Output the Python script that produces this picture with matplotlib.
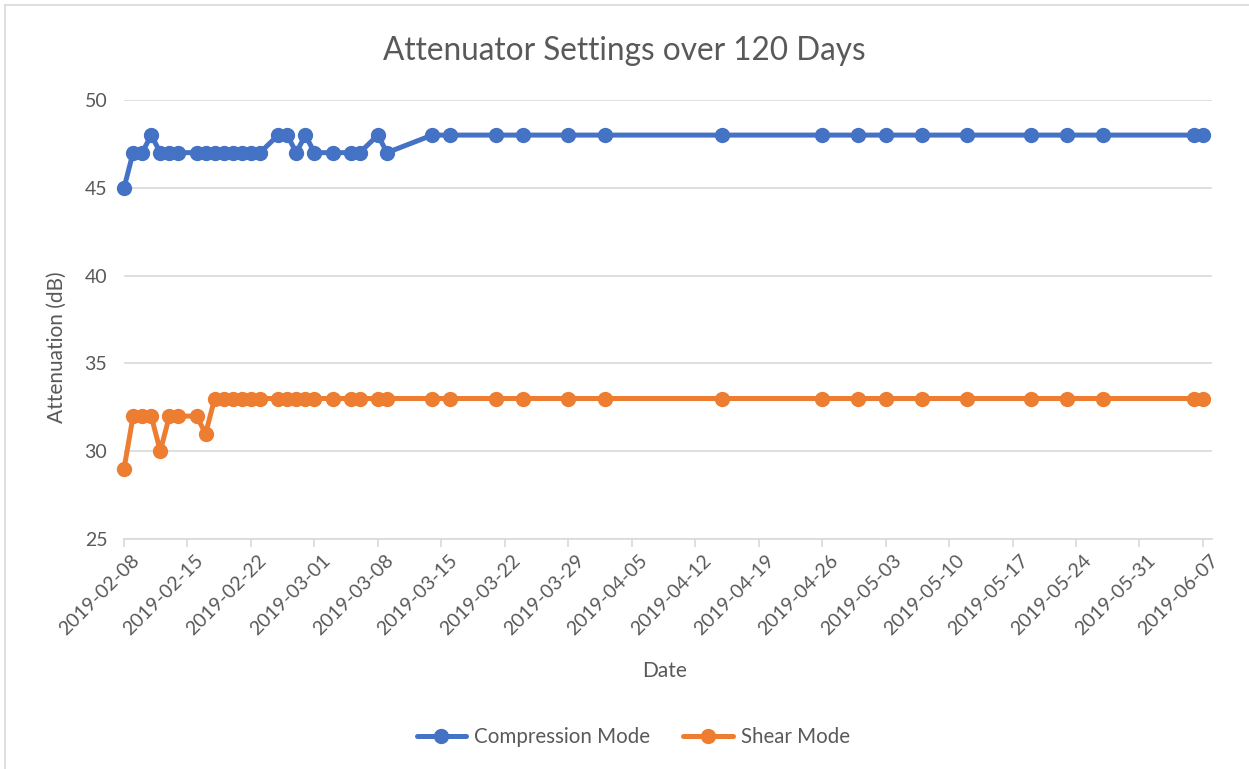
import numpy as np
import pandas as pd
import matplotlib
matplotlib.use('Agg')
import matplotlib.pyplot as plt
import matplotlib.dates as mdates
import matplotlib.transforms as mtransforms
from matplotlib.lines import Line2D

# ─────────────────────────────────────────
# DATA
# ─────────────────────────────────────────
start_date = '2019-02-08'
day_offsets = [0, 1, 2, 3, 4, 5, 6, 8, 9, 10, 11, 12, 13, 14, 15,
               17, 18, 19, 20, 21, 23, 25, 26, 28, 29, 34, 36,
               41, 44, 49, 53, 66, 77, 81, 84, 88, 93, 100, 104, 108, 118, 119]
compression_db = [45, 47, 47, 48, 47, 47, 47, 47, 47, 47, 47, 47, 47, 47, 47,
                  48, 48, 47, 48, 47, 47, 47, 47, 48, 47, 48, 48,
                  48, 48, 48, 48, 48, 48, 48, 48, 48, 48, 48, 48, 48, 48, 48]
shear_db = [29, 32, 32, 32, 30, 32, 32, 32, 31, 33, 33, 33, 33, 33, 33,
            33, 33, 33, 33, 33, 33, 33, 33, 33, 33, 33, 33,
            33, 33, 33, 33, 33, 33, 33, 33, 33, 33, 33, 33, 33, 33, 33]
series_names = ['Compression Mode', 'Shear Mode']
y_ticks = [25, 30, 35, 40, 45, 50]

dates = pd.to_datetime(start_date) + pd.to_timedelta(day_offsets, unit='D')

BLUE = '#4472C4'
ORANGE = '#ED7D31'
GRID = '#D9D9D9'
TEXT = '#595959'

plt.rcParams['font.family'] = ['Lato', 'DejaVu Sans']

fig = plt.figure(figsize=(12.49, 7.69), dpi=100)
ax = fig.add_axes([0.0993, 0.2991, 0.8711, 0.5709])

ax.plot(dates, compression_db, color=BLUE, lw=3.6, marker='o', ms=10,
        label=series_names[0], solid_capstyle='round', clip_on=False, zorder=3)
ax.plot(dates, shear_db, color=ORANGE, lw=3.6, marker='o', ms=10,
        label=series_names[1], solid_capstyle='round', clip_on=False, zorder=3)

# axes / grid
x_min = pd.Timestamp('2019-02-08')
x_max = pd.Timestamp('2019-06-08')
ax.set_xlim(x_min, x_max)
ax.set_ylim(25, 50)
ax.set_yticks(y_ticks)
ax.set_xticks(pd.date_range(x_min, '2019-06-07', freq='7D'))
ax.xaxis.set_major_formatter(mdates.DateFormatter('%Y-%m-%d'))

ax.grid(axis='y', color=GRID, lw=1.2)
ax.set_axisbelow(True)
for s in ['left', 'right', 'top']:
    ax.spines[s].set_visible(False)
ax.spines['bottom'].set_color(GRID)
ax.spines['bottom'].set_linewidth(1.2)

ax.tick_params(axis='y', length=0, pad=12, labelsize=14, labelcolor=TEXT)
ax.tick_params(axis='x', length=6, width=1.2, color=GRID, pad=3,
               labelsize=14, labelcolor=TEXT)
shift = mtransforms.ScaledTranslation(7 / 100, 0, fig.dpi_scale_trans)
for lbl in ax.get_xticklabels():
    lbl.set_rotation(45)
    lbl.set_ha('right')
    lbl.set_rotation_mode('anchor')
    lbl.set_transform(lbl.get_transform() + shift)

ax.set_xlabel('Date', fontsize=15, color=TEXT)
ax.xaxis.set_label_coords(0.497, -0.277)
ax.set_ylabel('Attenuation (dB)', fontsize=15, color=TEXT)
ax.yaxis.set_label_coords(-0.053, 0.437)

fig.text(0.5, 0.934, 'Attenuator Settings over 120 Days', ha='center',
         va='center', fontsize=22.7, color=TEXT)

fig.legend(loc='center', bbox_to_anchor=(0.507, 0.042), ncol=2, frameon=False,
           fontsize=14.8, handlelength=2.4, handletextpad=0.4, columnspacing=1.6,
           labelcolor=TEXT)

# chart area border (left and top edges)
fig.add_artist(Line2D([0.004, 0.004], [0, 0.994], transform=fig.transFigure,
                      color=GRID, lw=1.2))
fig.add_artist(Line2D([0.004, 1.0], [0.994, 0.994], transform=fig.transFigure,
                      color=GRID, lw=1.2))

fig.savefig('out.png', dpi=100, facecolor='white')
